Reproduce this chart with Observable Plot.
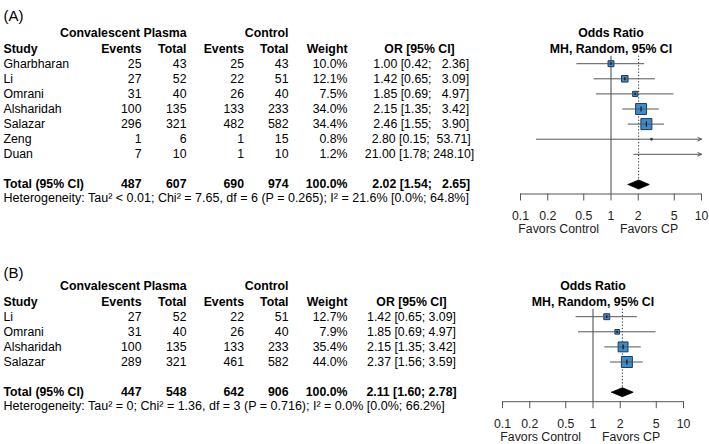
<!DOCTYPE html>
<html><head><meta charset="utf-8">
<script src="https://cdn.jsdelivr.net/npm/d3@7"></script>
<script src="https://cdn.jsdelivr.net/npm/@observablehq/plot@0.6"></script>
<style>
body{margin:0;background:#fff;}
#chart{width:709px;height:444px;overflow:hidden;}
#chart svg{display:block;}
svg text{white-space:pre;}
</style></head><body><div id="chart"></div>
<script>
// ---------- Panel A ----------
const studiesA = ["Gharbharan","Li","Omrani","Alsharidah","Salazar","Zeng","Duan"];
const eventsCPA = [25,27,31,100,296,1,7];
const totalCPA = [43,52,40,135,321,6,10];
const eventsCtrlA = [25,22,26,133,482,1,1];
const totalCtrlA = [43,51,40,233,582,15,10];
const weightA = [10.0,12.1,7.5,34.0,34.4,0.8,1.2];
const orA = [1.00,1.42,1.85,2.15,2.46,2.80,21.00];
const lowerA = [0.42,0.65,0.69,1.35,1.55,0.15,1.78];
const upperA = [2.36,3.09,4.97,3.42,3.90,53.71,248.10];
const sumsA = [487,607,690,974];
const pooledA = [2.02,1.54,2.65];
const hetA = "Heterogeneity: Tau\u00b2 < 0.01; Chi\u00b2 = 7.65, df = 6 (P = 0.265); I\u00b2 = 21.6% [0.0%; 64.8%]";

// ---------- Panel B ----------
const studiesB = ["Li","Omrani","Alsharidah","Salazar"];
const eventsCPB = [27,31,100,289];
const totalCPB = [52,40,135,321];
const eventsCtrlB = [22,26,133,461];
const totalCtrlB = [51,40,233,582];
const weightB = [12.7,7.9,35.4,44.0];
const orB = [1.42,1.85,2.15,2.37];
const lowerB = [0.65,0.69,1.35,1.56];
const upperB = [3.09,4.97,3.42,3.59];
const sumsB = [447,548,642,906];
const pooledB = [2.11,1.60,2.78];
const hetB = "Heterogeneity: Tau\u00b2 = 0; Chi\u00b2 = 1.36, df = 3 (P = 0.716); I\u00b2 = 0.0% [0.0%; 66.2%]";

const axisTicks = [0.1,0.2,0.5,1,2,5,10];
const axisTickLabels = ["0.1","0.2","0.5","1","2","5","10"];
const headersTop = ["Convalescent Plasma","Control"];
const headersCols = ["Study","Events","Total","Events","Total","Weight","OR [95% CI]"];
const forestTitle = ["Odds Ratio","MH, Random, 95% CI"];
const favorLabels = ["Favors Control","Favors CP"];

const FONT = "'Liberation Sans', Arial, Helvetica, sans-serif";
const SQ_FILL = "#3b8dd0", SQ_STROKE = "#1d3a58", LINE = "#555";

const vline = {draw(ctx, size){ const h = Math.sqrt(size/Math.PI)*0.42; ctx.moveTo(0,-h); ctx.lineTo(0,h); }};

function panel(p){
  const n = p.studies.length;
  const RH = 15.1;
  const totalRow = n + 3;
  const f2 = v => v.toFixed(2);
  const wE = d3.max([...p.or, p.pooled[0]], v => f2(v).length);
  const wL = d3.max([...p.lower, p.pooled[1]], v => f2(v).length);
  const wU = d3.max([...p.upper, p.pooled[2]], v => f2(v).length);
  const orStr = (e,l,u) => f2(e).padStart(wE) + " [" + f2(l).padStart(wL) + "; " + f2(u).padStart(wU) + "]";
  const rows = p.studies.map((s,i) => ({
    study: s, row: i + 2, evE: p.evE[i], totE: p.totE[i], evC: p.evC[i], totC: p.totC[i],
    w: p.weight[i], or: p.or[i], lo: p.lower[i], hi: p.upper[i],
    ors: orStr(p.or[i], p.lower[i], p.upper[i])
  }));
  const wmax = d3.max(p.weight);
  const C = {study:3, evE:141, totE:186, evC:243.5, totC:288, weight:347};
  const col = (data, text, dx, anchor, extra={}) => Plot.text(data, {y: "row", text, frameAnchor: "left", dx, textAnchor: anchor, ...extra});
  const total = [{row: totalRow}];
  const hdr1 = [{row: 0}], hdr2 = [{row: 1}];
  const B = {fontWeight: "bold"};
  const axisRow = totalRow + 9.5/RH;
  const inRange = rows.filter(d => d.or >= 0.1 && d.or <= 10);
  const ciFull = rows.filter(d => d.hi <= 10 && d.lo >= 0.1);
  const ciArrow = rows.filter(d => d.hi > 10);
  const [pe, pl, pu] = p.pooled;
  const dh = 4.5/RH;
  const diamond = [[pl,totalRow],[pe,totalRow-dh],[pu,totalRow],[pe,totalRow+dh],[pl,totalRow]];

  return Plot.plot({
    width: 709, height: p.height,
    margin: 0,
    style: {fontFamily: FONT, fontSize: "12.3px", color: "#000", background: "#fff", overflow: "visible"},
    x: {type: "log", domain: [0.1, 10], range: p.xRange, axis: null},
    y: {type: "linear", domain: [0, 1], range: [p.top, p.top + RH], axis: null},
    r: {type: "sqrt", domain: [0, wmax], range: [0, 11/Math.sqrt(Math.PI)]},
    marks: [
      Plot.text([p.label], {frameAnchor: "top-left", dx: 3, dy: p.labelY, fontSize: 15}),
      // header rows
      col(hdr1, () => headersTop[0], C.totE, "end", B),
      col(hdr1, () => headersTop[1], C.totC, "end", B),
      col(hdr2, () => headersCols[0], C.study, "start", B),
      col(hdr2, () => headersCols[1], C.evE, "end", B),
      col(hdr2, () => headersCols[2], C.totE, "end", B),
      col(hdr2, () => headersCols[3], C.evC, "end", B),
      col(hdr2, () => headersCols[4], C.totC, "end", B),
      col(hdr2, () => headersCols[5], C.weight, "end", B),
      col(hdr2, () => headersCols[6], p.orX, "middle", B),
      // study rows
      col(rows, "study", C.study, "start"),
      col(rows, d => String(d.evE), C.evE, "end"),
      col(rows, d => String(d.totE), C.totE, "end"),
      col(rows, d => String(d.evC), C.evC, "end"),
      col(rows, d => String(d.totC), C.totC, "end"),
      col(rows, d => d.w.toFixed(1) + "%", C.weight, "end"),
      col(rows, "ors", p.orX, "middle"),
      // total row
      col(total, () => "Total (95% CI)", C.study, "start", B),
      col(total, () => String(p.sums[0]), C.evE, "end", B),
      col(total, () => String(p.sums[1]), C.totE, "end", B),
      col(total, () => String(p.sums[2]), C.evC, "end", B),
      col(total, () => String(p.sums[3]), C.totC, "end", B),
      col(total, () => d3.sum(p.weight).toFixed(1) + "%", C.weight, "end", B),
      col(total, () => orStr(pe, pl, pu), p.orX, "middle", B),
      Plot.text([p.het], {y: () => totalRow + 13.8/RH, frameAnchor: "left", dx: 3, textAnchor: "start", fontSize: 12.5}),
      // forest titles
      Plot.text(forestTitle, {x: () => 1, y: (d,i) => i, text: d => d, fontWeight: "bold"}),
      // reference lines
      Plot.ruleX([1], {y1: 1.5, y2: axisRow, stroke: "#555", strokeWidth: 1.1}),
      Plot.ruleX([pe], {y1: 1.5, y2: totalRow - dh, stroke: "#222", strokeDasharray: "1.2,2"}),
      // squares
      Plot.dot(inRange, {x: "or", y: "row", r: "w", symbol: "square", fill: SQ_FILL, stroke: SQ_STROKE, strokeWidth: 1}),
      // CI lines
      Plot.ruleY(ciFull, {y: "row", x1: "lo", x2: "hi", stroke: LINE, strokeWidth: 1}),
      Plot.arrow(ciArrow, {x1: "lo", x2: () => 10, y1: "row", y2: "row", stroke: LINE, strokeWidth: 1, headLength: 6, headAngle: 50}),
      Plot.dot(inRange, {x: "or", y: "row", r: "w", symbol: vline, stroke: "#111", strokeWidth: 1.2}),
      // diamond
      Plot.line(diamond, {x: d => d[0], y: d => d[1], fill: "#000", stroke: "#000", strokeWidth: 0.8}),
      // axis
      Plot.ruleY([axisRow], {x1: () => 0.1, x2: () => 10, stroke: "#555"}),
      Plot.ruleX(axisTicks, {x: d => d, y1: axisRow, y2: axisRow + 7/RH, stroke: "#555"}),
      Plot.text(axisTicks, {x: d => d, y: totalRow + 31.5/RH, text: (d,i) => axisTickLabels[i], fill: "#222"}),
      Plot.text([favorLabels[0]], {x: () => 1, y: totalRow + 45/RH, dx: -12, textAnchor: "end", fill: "#222"}),
      Plot.text([favorLabels[1]], {x: () => 1, y: totalRow + 45/RH, dx: 9, textAnchor: "start", fill: "#222"})
    ]
  });
}

const chart = document.getElementById("chart");
chart.append(panel({
  label: "(A)", labelY: 10, top: 33, height: 240, xRange: [520, 701], orX: 419,
  studies: studiesA, evE: eventsCPA, totE: totalCPA, evC: eventsCtrlA, totC: totalCtrlA,
  weight: weightA, or: orA, lower: lowerA, upper: upperA, sums: sumsA, pooled: pooledA, het: hetA
}));
chart.append(panel({
  label: "(B)", labelY: 27, top: 46, height: 204, xRange: [502, 683], orX: 411,
  studies: studiesB, evE: eventsCPB, totE: totalCPB, evC: eventsCtrlB, totC: totalCtrlB,
  weight: weightB, or: orB, lower: lowerB, upper: upperB, sums: sumsB, pooled: pooledB, het: hetB
}));
</script>
</body></html>
